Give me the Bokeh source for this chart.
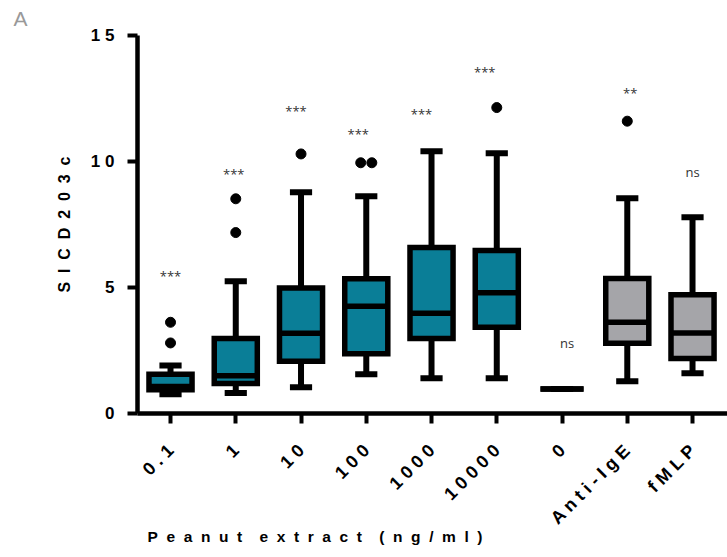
import numpy as np
from bokeh.plotting import figure
from bokeh.models import Range1d, FixedTicker, Title, ColumnDataSource
from bokeh.core.properties import value
from bokeh.embed import file_html
from bokeh.resources import INLINE

# ---------------- data ----------------
categories = ["0.1", "1", "10", "100", "1000", "10000", "0", "Anti-IgE", "fMLP"]
groups = ["peanut", "peanut", "peanut", "peanut", "peanut", "peanut",
          "control", "control", "control"]
whisker_low = [0.76, 0.81, 1.04, 1.56, 1.40, 1.40, 0.97, 1.28, 1.60]
q1 = [0.94, 1.19, 2.07, 2.37, 2.98, 3.42, 0.97, 2.79, 2.18]
median = [1.07, 1.50, 3.18, 4.26, 3.98, 4.79, 0.97, 3.62, 3.19]
q3 = [1.56, 2.98, 4.98, 5.35, 6.59, 6.47, 0.97, 5.36, 4.71]
whisker_high = [1.90, 5.25, 8.78, 8.62, 10.41, 10.33, 0.97, 8.54, 7.79]

outlier_cat = [0, 0, 1, 1, 2, 3, 3, 5, 7]
outlier_val = [3.62, 2.80, 8.52, 7.18, 10.30, 9.95, 9.95, 12.14, 11.60]

sig_labels = ["***", "***", "***", "***", "***", "***", "ns", "**", "ns"]
sig_y = [5.45, 9.50, 12.02, 11.11, 11.90, 13.56, 2.78, 12.73, 9.57]

y_ticks = [0, 5, 10, 15]
y_title = "SI CD203c"
x_title = "Peanut extract (ng/ml)"
panel_letter = "A"

# ---------------- styles ----------------
TEAL = "#0a7e97"
GRAY = "#a5a5a9"
group_color = {"peanut": TEAL, "control": GRAY}
sig_nudge_px = [0, -2, -5, -8, -10, -12, 5, 3, 0]
BOX_W = 0.66
CAP_HALF = 0.17
JITTER = 0.17
AX_FONT = "Liberation Sans"
NB = "\u00a0"


def spaced(s, gap=" ", word_gap="  "):
    # letter-spaced rendering of a text (non-breaking spaces keep SVG from collapsing them)
    return word_gap.join(gap.join(list(w)) for w in s.split(" "))


xs = np.arange(len(categories), dtype=float)
colors = [group_color[g] for g in groups]

src = ColumnDataSource(dict(
    x=xs, lo=whisker_low, q1=q1, med=median, q3=q3, hi=whisker_high,
    color=colors,
    m0=xs - BOX_W / 2, m1=xs + BOX_W / 2,
    c0=xs - CAP_HALF, c1=xs + CAP_HALF,
))

# outlier x positions: spread equal values side by side
ox = []
for i, (c, v) in enumerate(zip(outlier_cat, outlier_val)):
    same = [k for k, (c2, v2) in enumerate(zip(outlier_cat, outlier_val)) if c2 == c and v2 == v]
    n = len(same)
    r = same.index(i)
    ox.append(c + (r - (n - 1) / 2) * JITTER)

p = figure(width=727, height=557,
           x_range=Range1d(-0.506, 8.536), y_range=Range1d(0, 15),
           output_backend="svg", toolbar_location=None,
           min_border_left=137, min_border_right=0,
           min_border_top=35, min_border_bottom=144)
p.outline_line_color = None
p.xgrid.visible = False
p.ygrid.visible = False
p.background_fill_color = "white"
p.border_fill_color = "white"

# whiskers
p.segment(x0="x", y0="q3", x1="x", y1="hi", source=src, line_color="black", line_width=6)
p.segment(x0="x", y0="lo", x1="x", y1="q1", source=src, line_color="black", line_width=6)
p.segment(x0="c0", y0="hi", x1="c1", y1="hi", source=src, line_color="black", line_width=6)
p.segment(x0="c0", y0="lo", x1="c1", y1="lo", source=src, line_color="black", line_width=6)
# boxes
p.vbar(x="x", width=BOX_W, bottom="q1", top="q3", source=src,
       fill_color="color", line_color="black", line_width=5.5, line_join="miter")
# medians
p.segment(x0="m0", y0="med", x1="m1", y1="med", source=src, line_color="black", line_width=5.5)
# outliers
p.scatter(x=ox, y=outlier_val, size=10, color="black")

# significance labels
p.text(x=xs, y=sig_y, text=sig_labels, x_offset=sig_nudge_px,
       text_align="center", text_baseline="middle",
       text_font=value("Open Sans"), text_font_size="13px", text_color="#333333")

# axes
for ax in (p.xaxis[0], p.yaxis[0]):
    ax.axis_line_width = 4.5
    ax.axis_line_color = "black"
    ax.major_tick_line_width = 4
    ax.major_tick_line_color = "black"
    ax.major_tick_out = 10
    ax.major_tick_in = 0
    ax.minor_tick_line_color = None
    ax.major_label_text_font = AX_FONT
    ax.major_label_text_font_style = "bold"
    ax.major_label_text_color = "black"

p.yaxis.ticker = FixedTicker(ticks=y_ticks, minor_ticks=[])
p.yaxis.major_label_overrides = {t: spaced(str(t)) for t in y_ticks}
p.yaxis.major_label_text_font_size = "17px"
p.yaxis.major_label_standoff = 13
p.yaxis.axis_label = spaced(y_title, gap=NB + " ", word_gap=NB + " ")
p.yaxis.axis_label_text_font = AX_FONT
p.yaxis.axis_label_text_font_style = "bold"
p.yaxis.axis_label_text_font_size = "16px"
p.yaxis.axis_label_text_color = "black"
p.yaxis.axis_label_standoff = 15

p.xaxis.ticker = FixedTicker(ticks=list(range(len(categories))), minor_ticks=[])
p.xaxis.major_label_overrides = {i: spaced(c) for i, c in enumerate(categories)}
p.xaxis.major_label_text_font_size = "18px"
p.xaxis.major_label_orientation = np.pi / 4
p.xaxis.major_label_standoff = 24

# x-axis title (left aligned as in the reference) and the panel letter
x_title_box = Title(text=spaced(x_title, gap=NB + " ", word_gap=NB + NB + NB + " "),
                    align="left", offset=10, vertical_align="top",
                    text_font=AX_FONT, text_font_style="bold", text_font_size="15.5px",
                    text_color="black")
try:
    x_title_box.standoff = -22
except Exception:
    x_title_box.standoff = 0
p.add_layout(x_title_box, "below")

p.title.text = panel_letter
p.title.align = "left"
p.title.offset = -124
p.title.vertical_align = "top"
p.title.standoff = 8
p.title.text_font = AX_FONT
p.title.text_font_style = "normal"
p.title.text_font_size = "21px"
p.title.text_color = "#999999"

open("out.html", "w").write(file_html(p, INLINE))
